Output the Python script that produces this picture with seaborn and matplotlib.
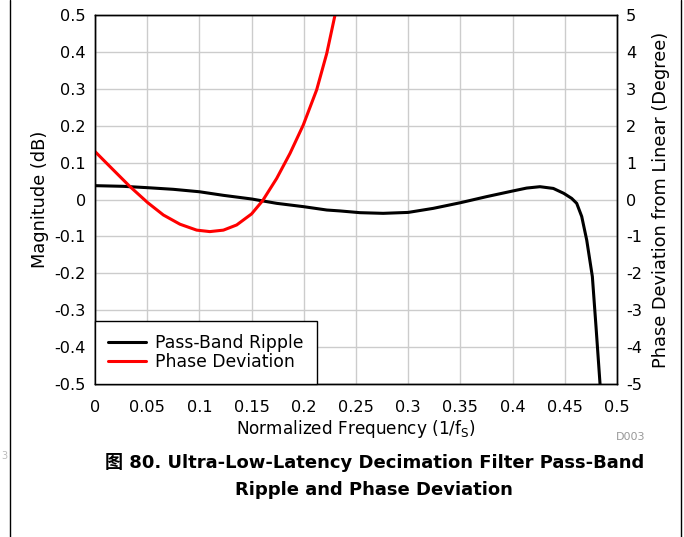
import numpy as np
import pandas as pd
import matplotlib
matplotlib.use("Agg")
import matplotlib.pyplot as plt
from matplotlib.lines import Line2D
import seaborn as sns

# pass-band ripple, left axis (dB)
ripple_f = [0.0, 0.0271, 0.0505, 0.075, 0.1, 0.1229, 0.15, 0.174, 0.2, 0.222,
            0.2347, 0.2538, 0.276, 0.3, 0.324, 0.35, 0.375, 0.4, 0.4135, 0.4262,
            0.439, 0.449, 0.4566, 0.4614, 0.4662, 0.471, 0.4764, 0.4799, 0.4837,
            0.4853]
ripple_db = [0.0375, 0.0357, 0.032, 0.0276, 0.021, 0.0113, 0.0014, -0.0104,
             -0.0195, -0.0285, -0.031, -0.0357, -0.0375, -0.035, -0.024, -0.0087,
             0.0077, 0.023, 0.031, 0.0347, 0.030, 0.0167, 0.003, -0.0104, -0.046,
             -0.11, -0.209, -0.345, -0.498, -0.56]

# phase deviation, right axis (degree)
phase_f = [0.0, 0.0144, 0.0335, 0.0505, 0.0655, 0.0814, 0.0974, 0.110, 0.123,
           0.1357, 0.150, 0.1606, 0.174, 0.1868, 0.1995, 0.2123, 0.222, 0.2299,
           0.233]
phase_deg = [1.30, 0.89, 0.35, -0.086, -0.42, -0.67, -0.83, -0.87, -0.83, -0.69,
             -0.39, -0.03, 0.57, 1.25, 2.02, 2.97, 3.96, 5.0, 5.5]

ticks_x = [0, 0.05, 0.1, 0.15, 0.2, 0.25, 0.3, 0.35, 0.4, 0.45, 0.5]
ticks_left = [-0.5, -0.4, -0.3, -0.2, -0.1, 0, 0.1, 0.2, 0.3, 0.4, 0.5]
ticks_right = [-5, -4, -3, -2, -1, 0, 1, 2, 3, 4, 5]

ripple = pd.DataFrame({"f": ripple_f, "v": ripple_db})
phase = pd.DataFrame({"f": phase_f, "v": phase_deg})

sns.set_style("white")
plt.rcParams["font.family"] = ["DejaVu Sans", "Noto Sans CJK SC"]
plt.rcParams["text.color"] = "black"
plt.rcParams["axes.labelcolor"] = "black"
plt.rcParams["xtick.color"] = "black"
plt.rcParams["ytick.color"] = "black"

fig = plt.figure(figsize=(6.84, 5.37), dpi=100)
ax = fig.add_axes([95 / 684, 1 - 384 / 537, 522 / 684, 369 / 537])
ax2 = ax.twinx()

sns.lineplot(data=ripple, x="f", y="v", ax=ax, color="black", lw=2.2, sort=False)
sns.lineplot(data=phase, x="f", y="v", ax=ax2, color="#ff0000", lw=2.2, sort=False)

ax.set_xlim(0, 0.5)
ax.set_ylim(-0.5, 0.5)
ax2.set_ylim(-5, 5)
ax.set_xticks(ticks_x)
ax.set_xticklabels([f"{t:g}" for t in ticks_x])
ax.set_yticks(ticks_left)
ax.set_yticklabels([f"{t:g}" for t in ticks_left])
ax2.set_yticks(ticks_right)
ax2.set_yticklabels([f"{t:g}" for t in ticks_right])

ax.grid(True, color="#cccccc", lw=1)
ax.tick_params(axis="y", length=0, labelsize=11.6, pad=6.5)
ax.tick_params(axis="x", length=0, labelsize=11.6, pad=11.5)
ax2.tick_params(length=0, labelsize=11.6, pad=6.5)
for a in (ax, ax2):
    for s in a.spines.values():
        s.set_color("black")
        s.set_linewidth(1)

ax.set_xlabel("Normalized Frequency (1/f$_\\mathregular{S}$)", fontsize=12.2, labelpad=2)
ax.set_ylabel("Magnitude (dB)", fontsize=12.8, labelpad=4)
ax2.set_ylabel("Phase Deviation from Linear (Degree)", fontsize=12.8, labelpad=7)

handles = [Line2D([], [], color="black", lw=2.2), Line2D([], [], color="#ff0000", lw=2.2)]
leg = ax2.legend(handles, ["Pass-Band Ripple", "Phase Deviation"], loc="lower left",
                 bbox_to_anchor=(0, 0), borderaxespad=0, fancybox=False,
                 edgecolor="black", framealpha=1, fontsize=12.4, handlelength=2.2,
                 handletextpad=0.55, borderpad=0.75, labelspacing=0.05)
leg.get_frame().set_linewidth(1)

fig.text(645 / 684, 1 - 437 / 537, "D003", fontsize=8, color="#999999",
         ha="right", va="center")
fig.text(375 / 684, 1 - 463 / 537, "图 80. Ultra-Low-Latency Decimation Filter Pass-Band",
         fontsize=13, fontweight="bold", ha="center", va="center")
fig.text(374 / 684, 1 - 490 / 537, "Ripple and Phase Deviation",
         fontsize=13, fontweight="bold", ha="center", va="center")
fig.text(1 / 684, 1 - 456 / 537, "3", fontsize=7, color="#bbbbbb", ha="left", va="center")

fig.add_artist(Line2D([9.5 / 684, 9.5 / 684], [0, 1], color="black", lw=1))
fig.add_artist(Line2D([680.5 / 684, 680.5 / 684], [0, 1], color="black", lw=1))

fig.savefig("out.png", dpi=100)
